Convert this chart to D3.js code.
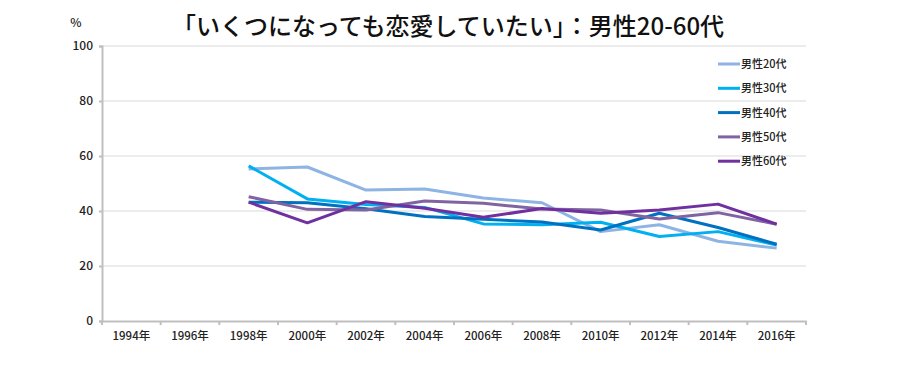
<!DOCTYPE html>
<html><head><meta charset="utf-8">
<script src="https://cdn.jsdelivr.net/npm/d3@7"></script>
<style>
body{margin:0;background:#fff;}
text{font-family:"Noto Sans CJK JP","Noto Sans",sans-serif;}
</style></head>
<body><svg id="c" width="900" height="390"></svg>
<script>
const years = ["1994年","1996年","1998年","2000年","2002年","2004年","2006年","2008年","2010年","2012年","2014年","2016年"];
const seriesNames = ["男性20代","男性30代","男性40代","男性50代","男性60代"];
const colors = ["#8eb4e3","#00b0f0","#0070c0","#8064a2","#7030a0"];
const m20 = [null,null,55.3,56.0,47.6,48.0,44.7,43.0,32.5,35.0,29.0,26.5];
const m30 = [null,null,56.4,44.4,42.4,41.3,35.3,35.0,35.9,30.7,32.5,27.6];
const m40 = [null,null,43.2,43.0,40.8,38.0,37.0,36.0,33.1,39.2,34.0,27.9];
const m50 = [null,null,45.2,40.6,40.4,43.6,42.8,40.7,40.4,37.1,39.4,35.2];
const m60 = [null,null,43.2,35.7,43.4,41.0,37.7,40.9,39.2,40.4,42.5,35.2];
const yTicks = [0,20,40,60,80,100];
const seriesData = [m20,m30,m40,m50,m60];

const svg = d3.select("#c");
const x = d3.scaleBand().domain(years).range([102,806]);
const y = d3.scaleLinear().domain([0,100]).range([321,46]);

// gridlines
svg.append("g").selectAll("line").data(yTicks.filter(d=>d>0)).join("line")
  .attr("x1",102).attr("x2",806).attr("y1",d=>y(d)).attr("y2",d=>y(d))
  .attr("stroke","#d9d9d9").attr("stroke-width",1);

// y axis
const ya = svg.append("g").attr("transform","translate(102,0)")
  .call(d3.axisLeft(y).tickValues(yTicks).tickSize(3).tickPadding(6));
ya.select(".domain").attr("stroke","#bfbfbf").attr("stroke-width",2);
ya.selectAll(".tick line").attr("stroke","#bfbfbf").attr("stroke-width",2);
ya.selectAll("text").attr("font-size",12).attr("font-weight",500).attr("fill","#222")
  .attr("font-family","'Noto Sans CJK JP',sans-serif");

// x axis
const xa = svg.append("g").attr("transform","translate(0,321)")
  .call(d3.axisBottom(x).tickSize(0).tickPadding(11));
xa.select(".domain").attr("stroke","#bfbfbf").attr("stroke-width",2);
xa.selectAll("text").attr("font-size",11.5).attr("font-weight",500).attr("fill","#222")
  .attr("font-family","'Noto Sans CJK JP',sans-serif");
// boundary ticks
const bounds = years.map(d=>x(d)).concat([806]);
svg.append("g").selectAll("line").data(bounds).join("line")
  .attr("x1",d=>d).attr("x2",d=>d).attr("y1",321).attr("y2",325)
  .attr("stroke","#bfbfbf").attr("stroke-width",2);

// lines
const line = d3.line().defined(d=>d.v!=null)
  .x(d=>x(d.yr)+x.bandwidth()/2).y(d=>y(d.v));
seriesData.forEach((s,i)=>{
  svg.append("path").datum(s.map((v,j)=>({yr:years[j],v})))
    .attr("d",line).attr("fill","none").attr("stroke",colors[i])
    .attr("stroke-width",3).attr("stroke-linejoin","round");
});

// legend
const lg = svg.append("g");
seriesNames.forEach((n,i)=>{
  const yy = 64 + i*24.3;
  lg.append("line").attr("x1",718).attr("x2",740).attr("y1",yy).attr("y2",yy)
    .attr("stroke",colors[i]).attr("stroke-width",3);
  lg.append("text").attr("x",741).attr("y",yy+4).attr("font-size",11).attr("font-weight",500)
    .attr("fill","#222").text(n);
});

// title
svg.append("text").attr("x",448).attr("y",35).attr("text-anchor","middle")
  .attr("font-size",24).attr("font-weight",500).attr("fill","#111")
  .text("「いくつになっても恋愛していたい」：男性20-60代");
svg.append("text").attr("x",76).attr("y",27).attr("text-anchor","middle")
  .attr("font-size",12).attr("font-weight",500).attr("fill","#222").text("%");
</script></body></html>
